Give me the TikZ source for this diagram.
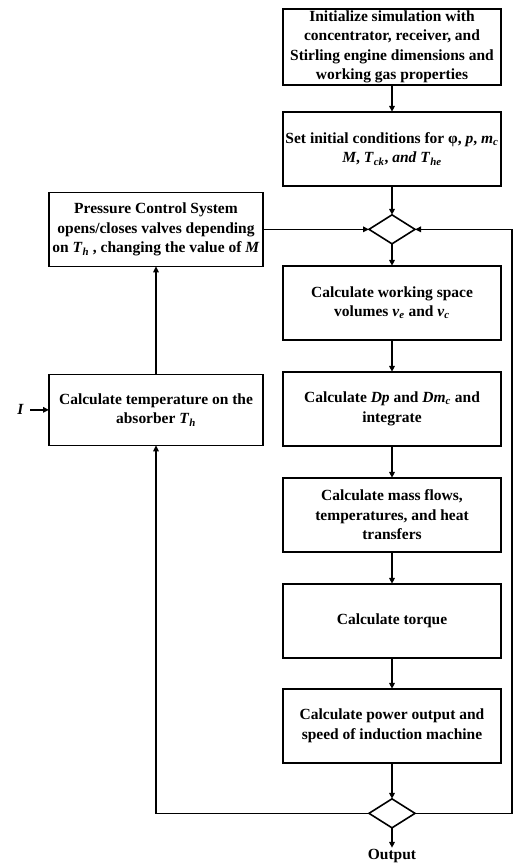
\documentclass[tikz,border=0pt]{standalone}
\usepackage{fontspec}
\setmainfont{Liberation Serif}
\usepackage{tikz}
\usetikzlibrary{positioning,shapes.geometric,arrows.meta}

\begin{document}
\begin{tikzpicture}[
  every node/.style={font=\fontsize{15.5}{19.5}\selectfont\bfseries},
  box/.style={rectangle, draw=black, line width=1.6pt, minimum width=218pt,
              minimum height=74pt, align=center, inner xsep=2pt, inner ysep=1.5pt,
              outer sep=0pt},
  lbox/.style={box, minimum width=214pt},
  dec/.style={diamond, draw=black, line width=1.6pt, minimum width=46pt,
              minimum height=29pt, inner sep=0pt, outer sep=0pt},
  arr/.style={-{Triangle[length=6pt,width=5.5pt]}, line width=1.6pt}
]
  \useasboundingbox (0,0) rectangle (513pt,-865pt);

  \node[box] (init) at (392pt,-47pt) {Initialize simulation with\\concentrator, receiver, and\\Stirling engine dimensions and\\working gas properties};
  \node[box, below=27pt of init] (cond) {Set initial conditions for φ, \textit{p}, \textit{m}\textsubscript{\textit{c}}\\\textit{M}, \textit{T}\textsubscript{\textit{ck}}, \textit{and T}\textsubscript{\textit{he}}};
  \node[dec, below=29pt of cond] (d1) {};
  \node[box, below=22pt of d1] (vol) {Calculate working space\\volumes \textit{v}\textsubscript{\textit{e}} and \textit{v}\textsubscript{\textit{c}}};
  \node[box, below=32pt of vol] (dp) {Calculate \textit{Dp} and \textit{Dm}\textsubscript{\textit{c}} and\\integrate};
  \node[box, below=32pt of dp] (flow) {Calculate mass flows,\\temperatures, and heat\\transfers};
  \node[box, below=32pt of flow] (torq) {Calculate torque};
  \node[box, below=31pt of torq] (pow) {Calculate power output and\\speed of induction machine};
  \node[dec, below=36pt of pow] (d2) {};
  \node[below=20pt of d2, inner sep=1pt] (out) {Output};

  \node[lbox, left=106pt of d1] (pcs) {Pressure Control System\\opens/closes valves depending\\on \textit{T}\textsubscript{\textit{h}} , changing the value of \textit{M}};
  \node[lbox, minimum height=71pt, below=108pt of pcs] (abs) {Calculate temperature on the\\absorber \textit{T}\textsubscript{\textit{h}}};
  \node[left=19pt of abs, inner sep=6pt] (irr) {\textit{I}};

  \coordinate (edge) at (512pt,0);

  \draw[arr] (init) -- (cond);
  \draw[arr] (cond) -- (d1);
  \draw[arr] (d1) -- (vol);
  \draw[arr] (vol) -- (dp);
  \draw[arr] (dp) -- (flow);
  \draw[arr] (flow) -- (torq);
  \draw[arr] (torq) -- (pow);
  \draw[arr] (pow) -- (d2);
  \draw[arr] (d2) -- (out);
  \draw[arr] (pcs) -- (d1);
  \draw[arr] (abs) -- (pcs);
  \draw[arr] (irr) -- (abs);
  \draw[arr] (d2.west) -| (abs.south);
  \draw[arr] (d2.east) -- (d2.east -| edge) |- (d1.east);
\end{tikzpicture}
\end{document}
